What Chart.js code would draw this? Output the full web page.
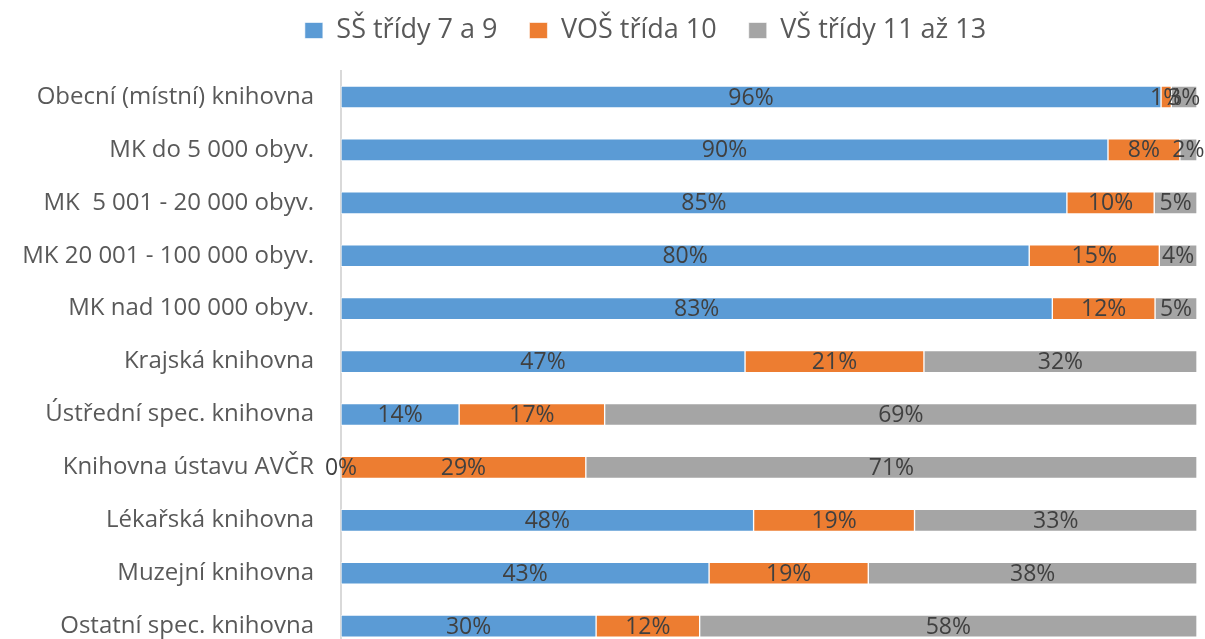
<!DOCTYPE html>
<html>
<head>
<meta charset="utf-8">
<script src="https://cdn.jsdelivr.net/npm/chart.js@4"></script>
<style>
  html, body { margin: 0; padding: 0; background: #fff; width: 1205px; height: 639px; overflow: hidden; }
  canvas { display: block; }
</style>
</head>
<body>
<canvas id="chart" width="1205" height="686"></canvas>
<script>
var categories = [
  'Obecní (místní) knihovna',
  'MK do 5 000 obyv.',
  'MK  5 001 - 20 000 obyv.',
  'MK 20 001 - 100 000 obyv.',
  'MK nad 100 000 obyv.',
  'Krajská knihovna',
  'Ústřední spec. knihovna',
  'Knihovna ústavu AVČR',
  'Lékařská knihovna',
  'Muzejní knihovna',
  'Ostatní spec. knihovna'
];
var seriesNames = ['SŠ třídy 7 a 9', 'VOŠ třída 10', 'VŠ třídy 11 až 13'];
var ssValues  = [95.8, 89.6, 84.8, 80.4, 83.1, 47.2, 13.8, 0, 48.2, 43, 29.8];
var vosValues = [1.2, 8.4, 10.2, 15.2, 12, 20.9, 17, 28.6, 18.8, 18.6, 12.1];
var vsValues  = [3, 2, 5, 4.4, 4.9, 31.9, 69.2, 71.4, 33, 38.4, 58.1];
var colors = ['#5B9BD5', '#ED7D31', '#A5A5A5'];

var FONT = 'Open Sans';

// draws the percentage in the middle of every segment
var segmentLabels = {
  id: 'segmentLabels',
  afterDatasetsDraw: function (chart) {
    var ctx = chart.ctx;
    ctx.save();
    ctx.font = '23px "' + FONT + '"';
    ctx.fillStyle = '#404040';
    ctx.textAlign = 'center';
    ctx.textBaseline = 'middle';
    chart.data.datasets.forEach(function (ds, i) {
      chart.getDatasetMeta(i).data.forEach(function (bar, j) {
        var cx = (bar.x + bar.base) / 2;
        ctx.fillText(Math.round(ds.data[j]) + '%', cx, bar.y + 1);
      });
    });
    ctx.restore();
  }
};

// extra room below the legend, and legend moved a bit right like the original
var legendTweak = {
  id: 'legendTweak',
  beforeInit: function (chart) {
    var fit = chart.legend.fit;
    chart.legend.fit = function () {
      fit.call(this);
      this.height += 16.5;
    };
  },
  afterLayout: function (chart) {
    chart.legend.left += 47;
    chart.legend.right += 47;
  }
};

new Chart(document.getElementById('chart'), {
  type: 'bar',
  data: {
    labels: categories,
    datasets: [
      { label: seriesNames[0], data: ssValues, backgroundColor: colors[0] },
      { label: seriesNames[1], data: vosValues, backgroundColor: colors[1] },
      { label: seriesNames[2], data: vsValues, backgroundColor: colors[2] }
    ].map(function (d) {
      d.borderColor = 'rgba(255,255,255,0.6)';
      d.borderWidth = 1;
      d.borderSkipped = false;
      d.barThickness = 22;
      return d;
    })
  },
  options: {
    indexAxis: 'y',
    responsive: false,
    animation: false,
    layout: { padding: { top: -15, right: 8, bottom: 0, left: 0 } },
    scales: {
      x: { stacked: true, min: 0, max: 100, display: false },
      y: {
        stacked: true,
        grid: { display: false },
        border: { display: true, color: '#d9d9d9', width: 2 },
        ticks: {
          color: '#595959',
          padding: 19,
          font: { family: FONT, size: 24 }
        },
        afterFit: function (scale) { scale.width = 341; }
      }
    },
    plugins: {
      legend: {
        position: 'top',
        labels: {
          color: '#595959',
          boxWidth: 18,
          boxHeight: 16,
          padding: 32,
          font: { family: FONT, size: 27 }
        }
      },
      tooltip: { enabled: false }
    }
  },
  plugins: [segmentLabels, legendTweak]
});
</script>
</body>
</html>
